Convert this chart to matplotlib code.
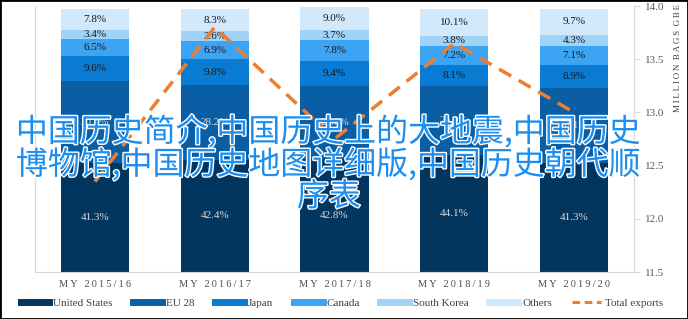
import matplotlib
matplotlib.use("Agg")
import matplotlib.pyplot as plt
import matplotlib.patheffects as pe
from matplotlib.lines import Line2D
import numpy as np

years = ["MY 2015/16", "MY 2016/17", "MY 2017/18", "MY 2018/19", "MY 2019/20"]
regions = ["United States", "EU 28", "Japan", "Canada", "South Korea", "Others"]
united_states = [41.3, 42.4, 42.8, 44.1, 41.3]
eu28 = [30.7, 28.2, 27.6, 26.0, 28.1]
japan = [9.6, 9.8, 9.4, 8.1, 8.9]
canada = [6.5, 6.9, 7.8, 7.2, 7.1]
south_korea = [3.4, 3.6, 3.7, 3.8, 4.3]
others = [7.8, 8.3, 9.0, 10.1, 9.7]
total_exports = [12.35, 13.8, 12.75, 13.65, 13.0]

colors = ["#03365f", "#0a5ea3", "#0a7bd3", "#3ca4f2", "#9fd3f8", "#d2e9fb"]
text_colors = ["#d9d9d9", "#d9d9d9", "#1a1a1a", "#1a1a1a", "#1a1a1a", "#1a1a1a"]
serif = ["Liberation Serif", "DejaVu Serif"]
gray = "#595959"
spine_gray = "#d9d9d9"

fig = plt.figure(figsize=(6.88, 3.19), dpi=100)
ax = fig.add_axes([35/688, 1-272/319, (634-35)/688, (272-6)/319])

series = [united_states, eu28, japan, canada, south_korea, others]
x = np.arange(len(years))
bottom = np.zeros(len(years))
for vals, c, tc, name in zip(series, colors, text_colors, regions):
    vals = np.array(vals)
    ax.bar(x, vals, 0.57, bottom=bottom, color=c, label=name, zorder=2)
    for xi, b, v in zip(x, bottom, vals):
        ax.text(xi, b + v/2, f"{v:.1f}%", ha="center", va="center",
                fontsize=8, color=tc, family=serif, zorder=3)
    bottom += vals

ax.set_xlim(-0.5, len(years) - 0.5)
ax.set_ylim(0, 100.5)
ax.set_yticks([])
ax.set_xticks(x)
ax.set_xticklabels(["\u2009".join(y) for y in years], family=serif, fontsize=7.5, color="#4d4d4d")
ax.tick_params(axis="x", length=0, pad=6)
for s in ["left", "bottom", "right"]:
    ax.spines[s].set_color(spine_gray)
ax.spines["top"].set_visible(False)

ax2 = ax.twinx()
ax2.plot(x, total_exports, color="#ed7d31", lw=2.5, ls=(0, (4, 2.5)), zorder=5)
ax2.set_ylim(11.5, 14.0)
ax2.set_yticks(np.arange(11.5, 14.01, 0.5))
ax2.set_yticklabels([f"{t:.1f}" for t in np.arange(11.5, 14.01, 0.5)], family=serif, fontsize=8, color=gray)
ax2.tick_params(axis="y", length=4, color=spine_gray, pad=4)
ax2.spines["right"].set_color(spine_gray)
for s in ["left", "top", "bottom"]:
    ax2.spines[s].set_visible(False)
fig.text(678/688, 1-58/319, "M\u2009I\u2009L\u2009L\u2009I\u2009O\u2009N  B\u2009A\u2009G\u2009S  G\u2009B\u2009E", rotation=90,
         ha="center", va="center", family=serif, fontsize=6.5, color="#404040")

handles = [Line2D([0], [0], color=c, lw=5) for c in colors]
handles.append(Line2D([0], [0], color="#ed7d31", lw=2.2, ls=(0, (2.5, 1.5))))
labels = regions + ["Total exports"]
fig.legend(handles, labels, loc="center", bbox_to_anchor=(0.497, 1-303/319), ncol=7,
           frameon=False, prop={"family": serif, "size": 8}, labelcolor="#404040",
           handlelength=2.6, handletextpad=0.35, columnspacing=1.85)

fig.text(0.478, 1-164/319, "中国历史简介,中国历史上的大地震,中国历史\n博物馆,中国历史地图详细版,中国历史朝代顺\n序表",
         ha="center", va="center", fontsize=23, color="#1b8ef0", linespacing=0.98,
         family=["Noto Sans CJK SC", "DejaVu Sans"], zorder=10,
         path_effects=[pe.withStroke(linewidth=2, foreground="white")])

fig.patches.append(plt.Rectangle((0, 0), 1, 1, transform=fig.transFigure, fill=False,
                                 edgecolor="black", lw=2, zorder=20))

fig.savefig("out.png", dpi=100)
